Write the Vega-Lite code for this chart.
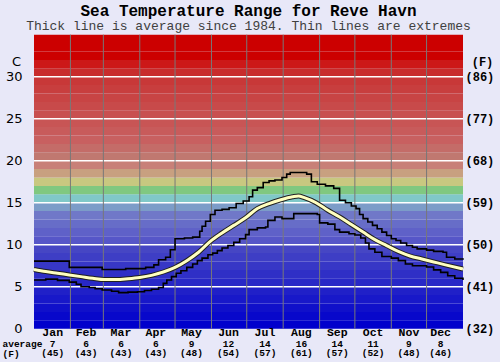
{
  "$schema": "https://vega.github.io/schema/vega-lite/v6.json",
  "width": 429,
  "height": 294,
  "autosize": "none",
  "padding": {"left": 34, "top": 34.7, "right": 37, "bottom": 33.3},
  "background": "#e8e8f8",
  "config": {"view": {"stroke": null}, "axis": {"labelColor": "#000000", "titleColor": "#000000"}},
  "title": {
    "text": "Sea Temperature Range for Reve Havn",
    "subtitle": "Thick line is average since 1984. Thin lines are extremes",
    "font": "Liberation Mono", "fontSize": 16, "fontWeight": "bold", "color": "#000000",
    "subtitleFont": "Liberation Mono", "subtitleFontSize": 13, "subtitleColor": "#404040",
    "subtitlePadding": 1.5, "offset": 1, "anchor": "middle", "frame": "group"
  },
  "datasets": {
    "bands": [
      {"lo":0,"hi":1},{"lo":1,"hi":2},{"lo":2,"hi":3},{"lo":3,"hi":4},{"lo":4,"hi":5},
      {"lo":5,"hi":6},{"lo":6,"hi":7},{"lo":7,"hi":8},{"lo":8,"hi":9},{"lo":9,"hi":10},
      {"lo":10,"hi":11},{"lo":11,"hi":12},{"lo":12,"hi":13},{"lo":13,"hi":14},{"lo":14,"hi":15},
      {"lo":15,"hi":16},{"lo":16,"hi":17},{"lo":17,"hi":18},{"lo":18,"hi":19},{"lo":19,"hi":20},
      {"lo":20,"hi":21},{"lo":21,"hi":22},{"lo":22,"hi":23},{"lo":23,"hi":24},{"lo":24,"hi":25},
      {"lo":25,"hi":26},{"lo":26,"hi":27},{"lo":27,"hi":28},{"lo":28,"hi":29},{"lo":29,"hi":30},
      {"lo":30,"hi":31},{"lo":31,"hi":32},{"lo":32,"hi":33},{"lo":33,"hi":34},{"lo":34,"hi":35}
    ],
    "grid": [{"v":5},{"v":10},{"v":15},{"v":20},{"v":25},{"v":30}],
    "mstart": [{"d":31},{"d":59},{"d":90},{"d":120},{"d":151},{"d":181},{"d":212},{"d":243},{"d":273},{"d":304},{"d":334}],
    "months": [
      {"m":"Jan","d":15.9,"c":"7","f":"(45)"},
      {"m":"Feb","d":44.3,"c":"6","f":"(43)"},
      {"m":"Mar","d":74,"c":"6","f":"(43)"},
      {"m":"Apr","d":103.7,"c":"6","f":"(43)"},
      {"m":"May","d":134,"c":"9","f":"(48)"},
      {"m":"Jun","d":165.5,"c":"12","f":"(54)"},
      {"m":"Jul","d":196.5,"c":"14","f":"(57)"},
      {"m":"Aug","d":227.5,"c":"16","f":"(61)"},
      {"m":"Sep","d":258,"c":"14","f":"(57)"},
      {"m":"Oct","d":288.5,"c":"11","f":"(52)"},
      {"m":"Nov","d":319,"c":"9","f":"(48)"},
      {"m":"Dec","d":346,"c":"8","f":"(46)"}
    ],
    "avg": [
      {"d":0,"t":7.05},{"d":10,"t":6.8},{"d":20,"t":6.6},{"d":30,"t":6.4},{"d":40,"t":6.2},
      {"d":50,"t":6.0},{"d":60,"t":5.85},{"d":70,"t":5.85},{"d":80,"t":5.95},{"d":90,"t":6.1},
      {"d":100,"t":6.35},{"d":110,"t":6.75},{"d":120,"t":7.3},{"d":130,"t":8.1},{"d":140,"t":9.1},
      {"d":150,"t":10.4},{"d":160,"t":11.4},{"d":170,"t":12.3},{"d":180,"t":13.2},{"d":190,"t":14.3},
      {"d":200,"t":14.9},{"d":210,"t":15.35},{"d":220,"t":15.7},{"d":225,"t":15.8},{"d":230,"t":15.6},
      {"d":240,"t":15.0},{"d":250,"t":14.1},{"d":260,"t":13.3},{"d":270,"t":12.4},{"d":280,"t":11.5},
      {"d":290,"t":10.6},{"d":300,"t":9.9},{"d":310,"t":9.2},{"d":320,"t":8.65},{"d":330,"t":8.3},
      {"d":340,"t":7.95},{"d":350,"t":7.6},{"d":365,"t":7.1}
    ],
    "max": [
      {"d":0,"t":8.05},{"d":30,"t":7.3},{"d":58,"t":7.05},{"d":78,"t":7.15},{"d":95,"t":7.3},
      {"d":102,"t":7.6},{"d":106,"t":8.2},{"d":112,"t":8.5},{"d":116,"t":9.4},{"d":120,"t":10.7},
      {"d":128,"t":10.8},{"d":135,"t":10.9},{"d":141,"t":11.6},{"d":143,"t":12.2},{"d":146,"t":12.8},
      {"d":150,"t":13.6},{"d":154,"t":14.1},{"d":160,"t":14.2},{"d":166,"t":14.4},{"d":172,"t":14.9},
      {"d":178,"t":15.2},{"d":183,"t":15.7},{"d":186,"t":16.5},{"d":190,"t":16.8},{"d":195,"t":17.4},
      {"d":200,"t":17.6},{"d":205,"t":17.7},{"d":211,"t":18.0},{"d":215,"t":18.4},{"d":218,"t":18.6},
      {"d":232,"t":18.4},{"d":236,"t":17.5},{"d":241,"t":17.2},{"d":248,"t":17.0},{"d":255,"t":16.7},
      {"d":260,"t":15.3},{"d":265,"t":15.0},{"d":270,"t":14.6},{"d":274,"t":14.3},{"d":277,"t":13.6},
      {"d":280,"t":13.1},{"d":284,"t":12.7},{"d":288,"t":12.3},{"d":292,"t":11.9},{"d":296,"t":11.5},
      {"d":300,"t":11.1},{"d":304,"t":10.7},{"d":308,"t":10.5},{"d":312,"t":10.2},{"d":317,"t":9.9},
      {"d":322,"t":9.7},{"d":326,"t":9.5},{"d":334,"t":9.35},{"d":340,"t":9.2},{"d":348,"t":9.1},
      {"d":351,"t":8.5},{"d":358,"t":8.3},{"d":365,"t":8.2}
    ],
    "min": [
      {"d":0,"t":5.8},{"d":10,"t":5.9},{"d":20,"t":5.75},{"d":30,"t":5.55},{"d":36,"t":5.3},
      {"d":40,"t":5.0},{"d":47,"t":4.9},{"d":52,"t":4.75},{"d":58,"t":4.6},{"d":66,"t":4.45},
      {"d":72,"t":4.3},{"d":80,"t":4.35},{"d":88,"t":4.4},{"d":94,"t":4.55},{"d":100,"t":4.7},
      {"d":106,"t":4.9},{"d":110,"t":5.4},{"d":113,"t":5.8},{"d":117,"t":6.2},{"d":121,"t":6.6},
      {"d":125,"t":6.9},{"d":130,"t":7.3},{"d":135,"t":7.7},{"d":139,"t":8.1},{"d":143,"t":8.4},
      {"d":148,"t":8.8},{"d":152,"t":9.0},{"d":156,"t":9.3},{"d":160,"t":9.6},{"d":165,"t":9.9},
      {"d":170,"t":10.3},{"d":175,"t":10.7},{"d":180,"t":11.2},{"d":183,"t":11.8},{"d":190,"t":12.0},
      {"d":197,"t":12.1},{"d":199,"t":12.9},{"d":205,"t":13.3},{"d":211,"t":13.1},{"d":221,"t":13.7},
      {"d":241,"t":13.6},{"d":243,"t":12.6},{"d":250,"t":12.45},{"d":256,"t":11.8},{"d":260,"t":11.5},
      {"d":268,"t":11.3},{"d":273,"t":11.15},{"d":278,"t":10.8},{"d":282,"t":10.2},{"d":285,"t":9.5},
      {"d":290,"t":9.1},{"d":296,"t":8.6},{"d":304,"t":8.4},{"d":310,"t":8.1},{"d":316,"t":7.7},
      {"d":322,"t":7.5},{"d":334,"t":7.35},{"d":340,"t":7.0},{"d":346,"t":6.7},{"d":352,"t":6.3},
      {"d":358,"t":6.0},{"d":365,"t":5.8}
    ]
  },
  "resolve": {"axis": {"x": "independent", "y": "independent"}},
  "layer": [
    {
      "data": {"name": "bands"},
      "mark": {"type": "rect"},
      "encoding": {
        "y": {"field": "lo", "type": "quantitative", "scale": {"domain": [0, 35], "nice": false},
          "axis": {"orient": "left", "values": [0,5,10,15,20,25,30], "grid": false, "ticks": false, "tickSize": 0, "domain": false,
            "labelPadding": 12, "labelFont": "DejaVu Sans", "labelFontSize": 13, "labelAlign": "right", "labelBaseline": "middle",
            "labelFlush": false, "labelOverlap": false,
            "title": "C", "titleAngle": 0, "titleX": -18, "titleY": 26.3, "titleAlign": "center", "titleBaseline": "middle",
            "titleFont": "DejaVu Sans", "titleFontSize": 13, "titleFontWeight": "normal"}},
        "y2": {"field": "hi"},
        "color": {"field": "lo", "type": "quantitative", "legend": null,
          "scale": {"type": "linear", "interpolate": "rgb",
            "domain": [0, 4, 9, 10, 13, 14, 15, 16, 17, 18, 19, 20, 22, 25, 29, 30, 31, 32, 35],
            "range": ["#0000cc", "#2020c8", "#4646c4", "#5656c8", "#7078c8", "#7c9cc8", "#80c8c8", "#80c880", "#c8c880", "#c8a080", "#c88078", "#c07870", "#c86060", "#c85050", "#c83838", "#c82c2c", "#cc1818", "#cc0000", "#cc0000"]}}
      }
    },
    {
      "data": {"name": "grid"},
      "mark": {"type": "rule", "color": "#ffffff", "strokeWidth": 1.5},
      "encoding": {
        "y": {"field": "v", "type": "quantitative", "scale": {"domain": [0, 35], "nice": false},
          "axis": {"orient": "right", "values": [0,5,10,15,20,25,30], "grid": false, "ticks": false, "tickSize": 0, "domain": false,
            "labelExpr": "'(' + round(datum.value*9/5+32) + ')'",
            "labelPadding": 2, "labelFont": "Liberation Mono", "labelFontSize": 12, "labelFontWeight": "bold", "labelAlign": "left", "labelBaseline": "middle",
            "labelFlush": false, "labelOverlap": false,
            "title": "(F)", "titleAngle": 0, "titleX": 19, "titleY": 26.3, "titleAlign": "center", "titleBaseline": "middle",
            "titleFont": "Liberation Mono", "titleFontSize": 12, "titleFontWeight": "bold"}}
      }
    },
    {
      "data": {"name": "mstart"},
      "mark": {"type": "rule", "color": "#787878", "strokeWidth": 1},
      "encoding": {
        "x": {"field": "d", "type": "quantitative", "scale": {"domain": [0, 365], "nice": false, "zero": false},
          "axis": {"labels": false, "ticks": false, "domain": false, "grid": false,
            "title": ["average", "(F)"], "titleAngle": 0, "titleAlign": "left", "titleBaseline": "alphabetic",
            "titleX": -32, "titleY": 17.9, "titleLineHeight": 9.8,
            "titleFont": "Liberation Mono", "titleFontSize": 9.5, "titleFontWeight": "bold"}}
      }
    },
    {
      "data": {"name": "max"},
      "mark": {"type": "line", "color": "#000000", "strokeWidth": 1.6, "interpolate": "step-after"},
      "encoding": {
        "x": {"field": "d", "type": "quantitative", "scale": {"domain": [0, 365], "nice": false, "zero": false}, "axis": null},
        "y": {"field": "t", "type": "quantitative", "scale": {"domain": [0, 35], "nice": false}, "axis": null}
      }
    },
    {
      "data": {"name": "min"},
      "mark": {"type": "line", "color": "#000000", "strokeWidth": 1.6, "interpolate": "step-after"},
      "encoding": {
        "x": {"field": "d", "type": "quantitative", "scale": {"domain": [0, 365], "nice": false, "zero": false}, "axis": null},
        "y": {"field": "t", "type": "quantitative", "scale": {"domain": [0, 35], "nice": false}, "axis": null}
      }
    },
    {
      "data": {"name": "avg"},
      "mark": {"type": "line", "color": "#202020", "strokeWidth": 5, "interpolate": "monotone"},
      "encoding": {
        "x": {"field": "d", "type": "quantitative", "scale": {"domain": [0, 365], "nice": false, "zero": false}, "axis": null},
        "y": {"field": "t", "type": "quantitative", "scale": {"domain": [0, 35], "nice": false}, "axis": null}
      }
    },
    {
      "data": {"name": "avg"},
      "mark": {"type": "line", "color": "#ffffc0", "strokeWidth": 3, "interpolate": "monotone"},
      "encoding": {
        "x": {"field": "d", "type": "quantitative", "scale": {"domain": [0, 365], "nice": false, "zero": false}, "axis": null},
        "y": {"field": "t", "type": "quantitative", "scale": {"domain": [0, 35], "nice": false}, "axis": null}
      }
    },
    {
      "data": {"name": "months"},
      "mark": {"type": "text", "font": "Liberation Mono", "fontSize": 11.5, "fontWeight": "bold", "color": "#000000", "baseline": "middle", "align": "center"},
      "encoding": {
        "x": {"field": "d", "type": "quantitative", "scale": {"domain": [0, 365], "nice": false, "zero": false}, "axis": null},
        "y": {"datum": -0.536, "type": "quantitative", "scale": {"domain": [0, 35], "nice": false}, "axis": null},
        "text": {"field": "m"}
      }
    },
    {
      "data": {"name": "months"},
      "mark": {"type": "text", "font": "Liberation Mono", "fontSize": 9.5, "fontWeight": "bold", "color": "#000000", "baseline": "middle", "align": "center"},
      "encoding": {
        "x": {"field": "d", "type": "quantitative", "scale": {"domain": [0, 365], "nice": false, "zero": false}, "axis": null},
        "y": {"datum": -1.798, "type": "quantitative", "scale": {"domain": [0, 35], "nice": false}, "axis": null},
        "text": {"field": "c"}
      }
    },
    {
      "data": {"name": "months"},
      "mark": {"type": "text", "font": "Liberation Mono", "fontSize": 9.5, "fontWeight": "bold", "color": "#000000", "baseline": "middle", "align": "center"},
      "encoding": {
        "x": {"field": "d", "type": "quantitative", "scale": {"domain": [0, 365], "nice": false, "zero": false}, "axis": null},
        "y": {"datum": -2.95, "type": "quantitative", "scale": {"domain": [0, 35], "nice": false}, "axis": null},
        "text": {"field": "f"}
      }
    }
  ]
}
